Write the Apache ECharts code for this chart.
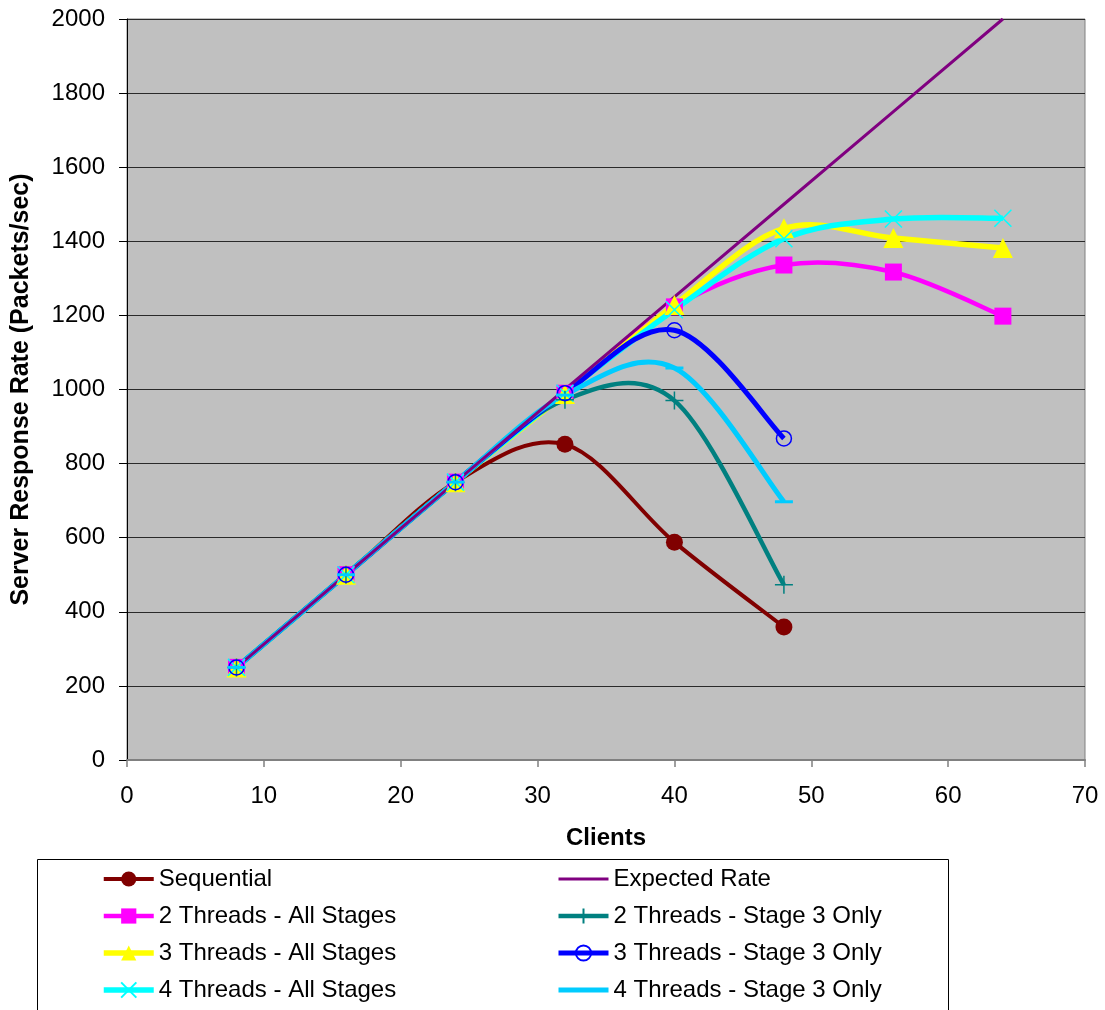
<!DOCTYPE html>
<html>
<head>
<meta charset="utf-8">
<script src="https://cdn.jsdelivr.net/npm/echarts@6/dist/echarts.min.js"></script>
<style>
html,body{margin:0;padding:0;background:#fff;}
#chart{width:1105px;height:1010px;}
</style>
</head>
<body>
<div id="chart"></div>
<script>
const clients = [8, 16, 24, 32, 40, 48, 56, 64];
const xTicks = [0, 10, 20, 30, 40, 50, 60, 70];
const yTicks = [0, 200, 400, 600, 800, 1000, 1200, 1400, 1600, 1800, 2000];

const sequential      = [250, 500, 750, 852, 588, 359];
const expectedRate    = [250, 500, 750, 1000, 1250, 1500, 1750, 2000];
const twoThreadsAll   = [250, 500, 750, 990, 1223, 1336, 1317, 1198];
const threeThreadsAll = [250, 500, 750, 988, 1228, 1435, 1409, 1382];
const fourThreadsAll  = [250, 500, 750, 990, 1215, 1407, 1460, 1462];
const twoThreadsS3    = [250, 500, 750, 972, 970, 473];
const threeThreadsS3  = [250, 500, 750, 990, 1160, 868];
const fourThreadsS3   = [250, 500, 750, 985, 1058, 697];

const FONT = '"Liberation Sans", Arial, sans-serif';
const pairs = vals => vals.map((v, i) => [clients[i], v]);

const X_PATH = 'path://M0 0L10 10M10 0L0 10';
const PLUS_PATH = 'path://M5 0L5 10M0 5L10 5';
const DASH_PATH = 'path://M0 0L10 0L10 1L0 1Z';

// Smoothed curve (Catmull-Rom style, as the spreadsheet draws it), computed in pixel space via api.coord
function curveSeries(name, vals, color, width) {
  return {
    name: name + ' (curve)', type: 'custom', coordinateSystem: 'cartesian2d',
    data: pairs(vals), z: 2, silent: true, animation: false,
    renderItem: function (params, api) {
      if (params.dataIndex !== 0) return null;
      const n = vals.length;
      const p = [];
      for (let i = 0; i < n; i++) p.push(api.coord([clients[i], vals[i]]));
      let d = 'M' + p[0][0] + ' ' + p[0][1];
      for (let i = 0; i < n - 1; i++) {
        const p0 = p[Math.max(i - 1, 0)], p1 = p[i], p2 = p[i + 1], p3 = p[Math.min(i + 2, n - 1)];
        const c1x = p1[0] + (p2[0] - p0[0]) / 6, c1y = p1[1] + (p2[1] - p0[1]) / 6;
        const c2x = p2[0] - (p3[0] - p1[0]) / 6, c2y = p2[1] - (p3[1] - p1[1]) / 6;
        d += ' C' + c1x + ' ' + c1y + ' ' + c2x + ' ' + c2y + ' ' + p2[0] + ' ' + p2[1];
      }
      return {
        type: 'path', shape: { pathData: d },
        style: { fill: null, stroke: color, lineWidth: width, lineJoin: 'round', lineCap: 'butt' }
      };
    }
  };
}

function markerSeries(name, vals, color, symbol, size, itemStyle) {
  return {
    name: name, type: 'line', data: pairs(vals), z: 2,
    symbol: symbol, symbolSize: size, showSymbol: true,
    lineStyle: { color: color, width: 0, opacity: 0 },
    itemStyle: Object.assign({ color: color }, itemStyle || {}),
    emphasis: { disabled: true }, animation: false
  };
}

const seriesDefs = [
  { name: 'Sequential', vals: sequential, color: '#800000', width: 4, symbol: 'circle', size: 17 },
  { name: 'Expected Rate', vals: expectedRate, color: '#800080', width: 3, symbol: 'none', size: 0 },
  { name: '2 Threads - All Stages', vals: twoThreadsAll, color: '#FF00FF', width: 4.5, symbol: 'rect', size: 17 },
  { name: '3 Threads - All Stages', vals: threeThreadsAll, color: '#FFFF00', width: 5.5, symbol: 'triangle', size: 20 },
  { name: '4 Threads - All Stages', vals: fourThreadsAll, color: '#00FFFF', width: 5.5, symbol: X_PATH, size: 17,
    itemStyle: { color: 'rgba(0,0,0,0)', borderColor: '#00FFFF', borderWidth: 1.5 } },
  { name: '2 Threads - Stage 3 Only', vals: twoThreadsS3, color: '#008080', width: 4.5, symbol: PLUS_PATH, size: 18,
    itemStyle: { color: 'rgba(0,0,0,0)', borderColor: '#008080', borderWidth: 1.5 } },
  { name: '3 Threads - Stage 3 Only', vals: threeThreadsS3, color: '#0000FF', width: 5, symbol: 'circle', size: 15,
    itemStyle: { color: 'rgba(0,0,0,0)', borderColor: '#0000FF', borderWidth: 1.5 } },
  { name: '4 Threads - Stage 3 Only', vals: fourThreadsS3, color: '#00CCFF', width: 5, symbol: DASH_PATH, size: [18, 3] }
];

const series = [];
seriesDefs.forEach(function (s) {
  if (s.symbol === 'none') {
    series.push({
      name: s.name, type: 'line', data: pairs(s.vals), z: 2, symbol: 'none', showSymbol: false,
      lineStyle: { color: s.color, width: s.width }, itemStyle: { color: s.color },
      emphasis: { disabled: true }, animation: false
    });
  } else {
    series.push(curveSeries(s.name, s.vals, s.color, s.width));
    series.push(markerSeries(s.name, s.vals, s.color, s.symbol, s.size, s.itemStyle));
  }
});

function legendItem(name) {
  const s = seriesDefs.find(d => d.name === name);
  const item = { name: name, lineStyle: { color: s.color, width: s.width, opacity: 1 } };
  if (s.symbol === 'none' || s.name === '4 Threads - Stage 3 Only') item.itemStyle = { opacity: 0 };
  return item;
}

const legendCommon = {
  orient: 'vertical', top: 867, itemGap: 13, itemWidth: 50, itemHeight: 19,
  padding: 0, selectedMode: false,
  textStyle: { fontFamily: FONT, fontSize: 24, color: '#000' }
};

const chart = echarts.init(document.getElementById('chart'), null, { renderer: 'canvas' });
chart.setOption({
  backgroundColor: '#ffffff',
  animation: false,
  grid: {
    left: 127, right: 20, top: 19, bottom: 250, show: true,
    backgroundColor: '#C0C0C0', borderColor: '#808080', borderWidth: 1
  },
  xAxis: {
    type: 'value', min: xTicks[0], max: xTicks[xTicks.length - 1], interval: 10,
    name: 'Clients', nameLocation: 'middle', nameGap: 66,
    nameTextStyle: { fontFamily: FONT, fontSize: 24, fontWeight: 'bold', color: '#000' },
    axisLine: { show: true, lineStyle: { color: '#808080', width: 2 } },
    axisTick: { show: true, length: 7, lineStyle: { color: '#808080', width: 1.5 } },
    axisLabel: { fontFamily: FONT, fontSize: 24, color: '#000', margin: 24, formatter: v => String(v) },
    splitLine: { show: false }
  },
  yAxis: {
    type: 'value', min: yTicks[0], max: yTicks[yTicks.length - 1], interval: 200,
    name: 'Server Response Rate (Packets/sec)', nameLocation: 'middle', nameGap: 93,
    nameTextStyle: { fontFamily: FONT, fontSize: 25, fontWeight: 'bold', color: '#000' },
    axisLine: { show: true, lineStyle: { color: '#000', width: 1 } },
    axisTick: { show: true, length: 8, lineStyle: { color: '#000', width: 1 } },
    axisLabel: { fontFamily: FONT, fontSize: 24, color: '#000', margin: 22, formatter: v => String(v) },
    splitLine: { show: true, lineStyle: { color: '#2a2a2a', width: 1 } }
  },
  legend: [
    Object.assign({ left: 101, data: ['Sequential', '2 Threads - All Stages', '3 Threads - All Stages', '4 Threads - All Stages'].map(legendItem) }, legendCommon),
    Object.assign({ left: 556, data: ['Expected Rate', '2 Threads - Stage 3 Only', '3 Threads - Stage 3 Only', '4 Threads - Stage 3 Only'].map(legendItem) }, legendCommon)
  ],
  graphic: [{
    type: 'rect', z: -1,
    shape: { x: 37.5, y: 859.5, width: 911, height: 200 },
    style: { fill: 'none', stroke: '#000', lineWidth: 1 }
  }],
  series: series
});
</script>
</body>
</html>
